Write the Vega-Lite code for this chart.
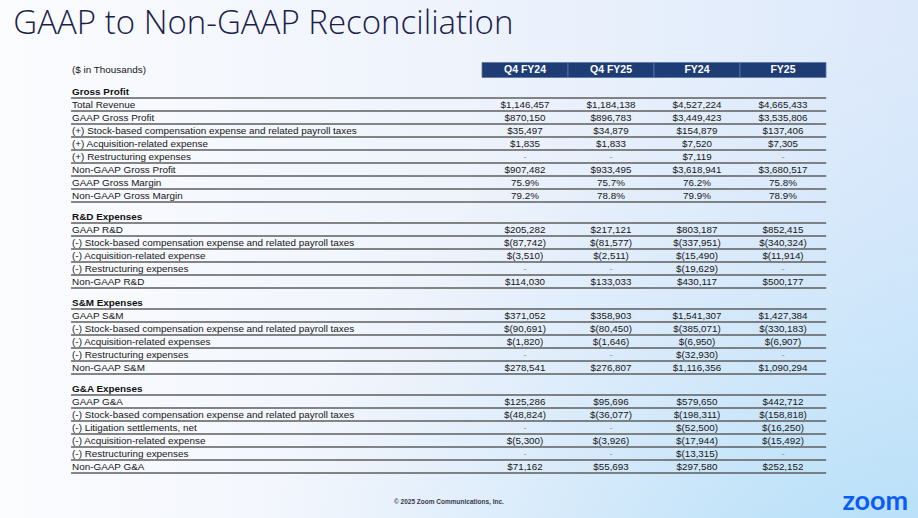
{
  "$schema": "https://vega.github.io/schema/vega-lite/v6.json",
  "width": 918,
  "height": 518,
  "autosize": {"type": "fit", "contains": "padding"},
  "padding": 0,
  "background": "#ffffff",
  "config": {"view": {"stroke": null}, "axis": {"disable": true}, "legend": {"disable": true}},
  "datasets": {
    "rows": [
      {"row": -1, "kind": "caption", "label": "($ in Thousands)"},
      {"row": 0, "kind": "section", "label": "Gross Profit"},
      {"row": 1, "kind": "item", "label": "Total Revenue", "Q4 FY24": "$1,146,457", "Q4 FY25": "$1,184,138", "FY24": "$4,527,224", "FY25": "$4,665,433"},
      {"row": 2, "kind": "item", "label": "GAAP Gross Profit", "Q4 FY24": "$870,150", "Q4 FY25": "$896,783", "FY24": "$3,449,423", "FY25": "$3,535,806"},
      {"row": 3, "kind": "item", "label": "(+) Stock-based compensation expense and related payroll taxes", "Q4 FY24": "$35,497", "Q4 FY25": "$34,879", "FY24": "$154,879", "FY25": "$137,406"},
      {"row": 4, "kind": "item", "label": "(+) Acquisition-related expense", "Q4 FY24": "$1,835", "Q4 FY25": "$1,833", "FY24": "$7,520", "FY25": "$7,305"},
      {"row": 5, "kind": "item", "label": "(+) Restructuring expenses", "Q4 FY24": "-", "Q4 FY25": "-", "FY24": "$7,119", "FY25": "-"},
      {"row": 6, "kind": "item", "label": "Non-GAAP Gross Profit", "Q4 FY24": "$907,482", "Q4 FY25": "$933,495", "FY24": "$3,618,941", "FY25": "$3,680,517"},
      {"row": 7, "kind": "item", "label": "GAAP Gross Margin", "Q4 FY24": "75.9%", "Q4 FY25": "75.7%", "FY24": "76.2%", "FY25": "75.8%"},
      {"row": 8, "kind": "item", "label": "Non-GAAP Gross Margin", "Q4 FY24": "79.2%", "Q4 FY25": "78.8%", "FY24": "79.9%", "FY25": "78.9%"},
      {"row": 9, "kind": "section", "label": "R&D Expenses"},
      {"row": 10, "kind": "item", "label": "GAAP R&D", "Q4 FY24": "$205,282", "Q4 FY25": "$217,121", "FY24": "$803,187", "FY25": "$852,415"},
      {"row": 11, "kind": "item", "label": "(-) Stock-based compensation expense and related payroll taxes", "Q4 FY24": "$(87,742)", "Q4 FY25": "$(81,577)", "FY24": "$(337,951)", "FY25": "$(340,324)"},
      {"row": 12, "kind": "item", "label": "(-) Acquisition-related expense", "Q4 FY24": "$(3,510)", "Q4 FY25": "$(2,511)", "FY24": "$(15,490)", "FY25": "$(11,914)"},
      {"row": 13, "kind": "item", "label": "(-) Restructuring expenses", "Q4 FY24": "-", "Q4 FY25": "-", "FY24": "$(19,629)", "FY25": "-"},
      {"row": 14, "kind": "item", "label": "Non-GAAP R&D", "Q4 FY24": "$114,030", "Q4 FY25": "$133,033", "FY24": "$430,117", "FY25": "$500,177"},
      {"row": 15, "kind": "section", "label": "S&M Expenses"},
      {"row": 16, "kind": "item", "label": "GAAP S&M", "Q4 FY24": "$371,052", "Q4 FY25": "$358,903", "FY24": "$1,541,307", "FY25": "$1,427,384"},
      {"row": 17, "kind": "item", "label": "(-) Stock-based compensation expense and related payroll taxes", "Q4 FY24": "$(90,691)", "Q4 FY25": "$(80,450)", "FY24": "$(385,071)", "FY25": "$(330,183)"},
      {"row": 18, "kind": "item", "label": "(-) Acquisition-related expenses", "Q4 FY24": "$(1,820)", "Q4 FY25": "$(1,646)", "FY24": "$(6,950)", "FY25": "$(6,907)"},
      {"row": 19, "kind": "item", "label": "(-) Restructuring expenses", "Q4 FY24": "-", "Q4 FY25": "-", "FY24": "$(32,930)", "FY25": "-"},
      {"row": 20, "kind": "item", "label": "Non-GAAP S&M", "Q4 FY24": "$278,541", "Q4 FY25": "$276,807", "FY24": "$1,116,356", "FY25": "$1,090,294"},
      {"row": 21, "kind": "section", "label": "G&A Expenses"},
      {"row": 22, "kind": "item", "label": "GAAP G&A", "Q4 FY24": "$125,286", "Q4 FY25": "$95,696", "FY24": "$579,650", "FY25": "$442,712"},
      {"row": 23, "kind": "item", "label": "(-) Stock-based compensation expense and related payroll taxes", "Q4 FY24": "$(48,824)", "Q4 FY25": "$(36,077)", "FY24": "$(198,311)", "FY25": "$(158,818)"},
      {"row": 24, "kind": "item", "label": "(-) Litigation settlements, net", "Q4 FY24": "-", "Q4 FY25": "-", "FY24": "$(52,500)", "FY25": "$(16,250)"},
      {"row": 25, "kind": "item", "label": "(-) Acquisition-related expense", "Q4 FY24": "$(5,300)", "Q4 FY25": "$(3,926)", "FY24": "$(17,944)", "FY25": "$(15,492)"},
      {"row": 26, "kind": "item", "label": "(-) Restructuring expenses", "Q4 FY24": "-", "Q4 FY25": "-", "FY24": "$(13,315)", "FY25": "-"},
      {"row": 27, "kind": "item", "label": "Non-GAAP G&A", "Q4 FY24": "$71,162", "Q4 FY25": "$55,693", "FY24": "$297,580", "FY25": "$252,152"}
    ]
  },
  "resolve": {"scale": {"x": "independent"}},
  "layer": [
    {
      "data": {"values": [{}]},
      "mark": {"type": "rect", "fill": {"gradient": "linear", "x1": 0, "y1": 0, "x2": 1, "y2": 0, "stops": [{"offset": 0, "color": "#fbfcfe"}, {"offset": 0.5, "color": "#eef3fc"}, {"offset": 1, "color": "#dce9fb"}]}},
      "encoding": {}
    },
    {
      "data": {"values": [{}]},
      "mark": {"type": "rect", "fill": {"gradient": "radial", "x1": 1, "y1": 1, "r1": 0, "x2": 1, "y2": 1, "r2": 0.75, "stops": [{"offset": 0, "color": "rgba(160,219,247,1)"}, {"offset": 0.5, "color": "rgba(175,222,248,0.45)"}, {"offset": 1, "color": "rgba(200,228,250,0)"}]}},
      "encoding": {}
    },
    {
      "layer": [
        {
          "data": {"values": [{"t": "GAAP to Non-GAAP Reconciliation"}]},
          "mark": {"type": "text", "align": "left", "baseline": "alphabetic", "font": "Open Sans", "fontWeight": 300, "fontSize": 33, "color": "#1b1f4b"},
          "encoding": {
            "x": {"datum": 1.45, "type": "quantitative", "scale": {"type": "linear", "domain": [0, 100], "range": [0, 918], "zero": false, "nice": false}},
            "y": {"datum": -4, "type": "quantitative", "scale": {"type": "linear", "domain": [-4, -1, 0, 8, 9, 14, 15, 20, 21, 27, 28.5], "range": [33.5, 70, 91.5, 195.5, 216.5, 281.5, 302.5, 367.5, 388.5, 466.5, 502], "zero": false, "nice": false}},
            "text": {"field": "t"}
          }
        },
        {
          "data": {"name": "rows"},
          "transform": [{"filter": "datum.row >= 0"}],
          "mark": {"type": "rule", "color": "#5e5e5e", "strokeWidth": 1.4, "yOffset": 6.5},
          "encoding": {
            "x": {"datum": 7.74, "type": "quantitative"},
            "x2": {"datum": 90.0},
            "y": {"field": "row", "type": "quantitative"}
          }
        },
        {
          "data": {"name": "rows"},
          "transform": [{"filter": "datum.kind != 'section'"}],
          "mark": {"type": "text", "align": "left", "baseline": "middle", "font": "Liberation Sans", "fontSize": 9.9, "color": "#161616"},
          "encoding": {
            "x": {"datum": 7.85, "type": "quantitative"},
            "y": {"field": "row", "type": "quantitative"},
            "text": {"field": "label"}
          }
        },
        {
          "data": {"name": "rows"},
          "transform": [{"filter": "datum.kind == 'section'"}],
          "mark": {"type": "text", "align": "left", "baseline": "middle", "font": "Liberation Sans", "fontWeight": "bold", "fontSize": 9.9, "color": "#111111"},
          "encoding": {
            "x": {"datum": 7.85, "type": "quantitative"},
            "y": {"field": "row", "type": "quantitative"},
            "text": {"field": "label"}
          }
        },
        {
          "data": {"values": [{"t": "© 2025 Zoom Communications, Inc."}]},
          "mark": {"type": "text", "align": "center", "baseline": "middle", "font": "Liberation Sans", "fontWeight": "bold", "fontSize": 6.5, "color": "#3a3a4a"},
          "encoding": {
            "x": {"datum": 48.9, "type": "quantitative"},
            "y": {"datum": 28.5, "type": "quantitative"},
            "text": {"field": "t"}
          }
        },
        {
          "data": {"values": [{"t": "zoom"}]},
          "mark": {"type": "text", "align": "center", "baseline": "alphabetic", "font": "Lato", "fontWeight": "bold", "fontSize": 27, "color": "#0b5cf5"},
          "encoding": {
            "x": {"datum": 95.35, "type": "quantitative"},
            "y": {"datum": 28.85, "type": "quantitative"},
            "text": {"field": "t"}
          }
        }
      ]
    },
    {
      "layer": [
        {
          "data": {"values": [{"period": "Q4 FY24"}, {"period": "Q4 FY25"}, {"period": "FY24"}, {"period": "FY25"}]},
          "mark": {"type": "rect", "fill": "#1f3d75", "stroke": "#5a76a6", "strokeWidth": 0.8, "yOffset": -7.5, "y2Offset": 7.5},
          "encoding": {
            "x": {"field": "period", "type": "nominal", "scale": {"type": "band", "domain": ["Q4 FY24", "Q4 FY25", "FY24", "FY25"], "range": [482, 826], "paddingInner": 0, "paddingOuter": 0}},
            "y": {"datum": -1, "type": "quantitative"},
            "y2": {"datum": -1}
          }
        },
        {
          "data": {"values": [{"period": "Q4 FY24"}, {"period": "Q4 FY25"}, {"period": "FY24"}, {"period": "FY25"}]},
          "mark": {"type": "text", "align": "center", "baseline": "middle", "font": "Liberation Sans", "fontWeight": "bold", "fontSize": 10.5, "color": "#ffffff"},
          "encoding": {
            "x": {"field": "period", "type": "nominal"},
            "y": {"datum": -1, "type": "quantitative"},
            "text": {"field": "period"}
          }
        },
        {
          "data": {"name": "rows"},
          "transform": [
            {"filter": "datum.kind == 'item'"},
            {"fold": ["Q4 FY24", "Q4 FY25", "FY24", "FY25"], "as": ["period", "val"]}
          ],
          "mark": {"type": "text", "align": "center", "baseline": "middle", "font": "Liberation Sans", "fontSize": 9.8},
          "encoding": {
            "x": {"field": "period", "type": "nominal"},
            "y": {"field": "row", "type": "quantitative"},
            "text": {"field": "val"},
            "color": {"condition": {"test": "datum.val == '-'", "value": "#9a9a9a"}, "value": "#161616"}
          }
        }
      ]
    }
  ]
}
